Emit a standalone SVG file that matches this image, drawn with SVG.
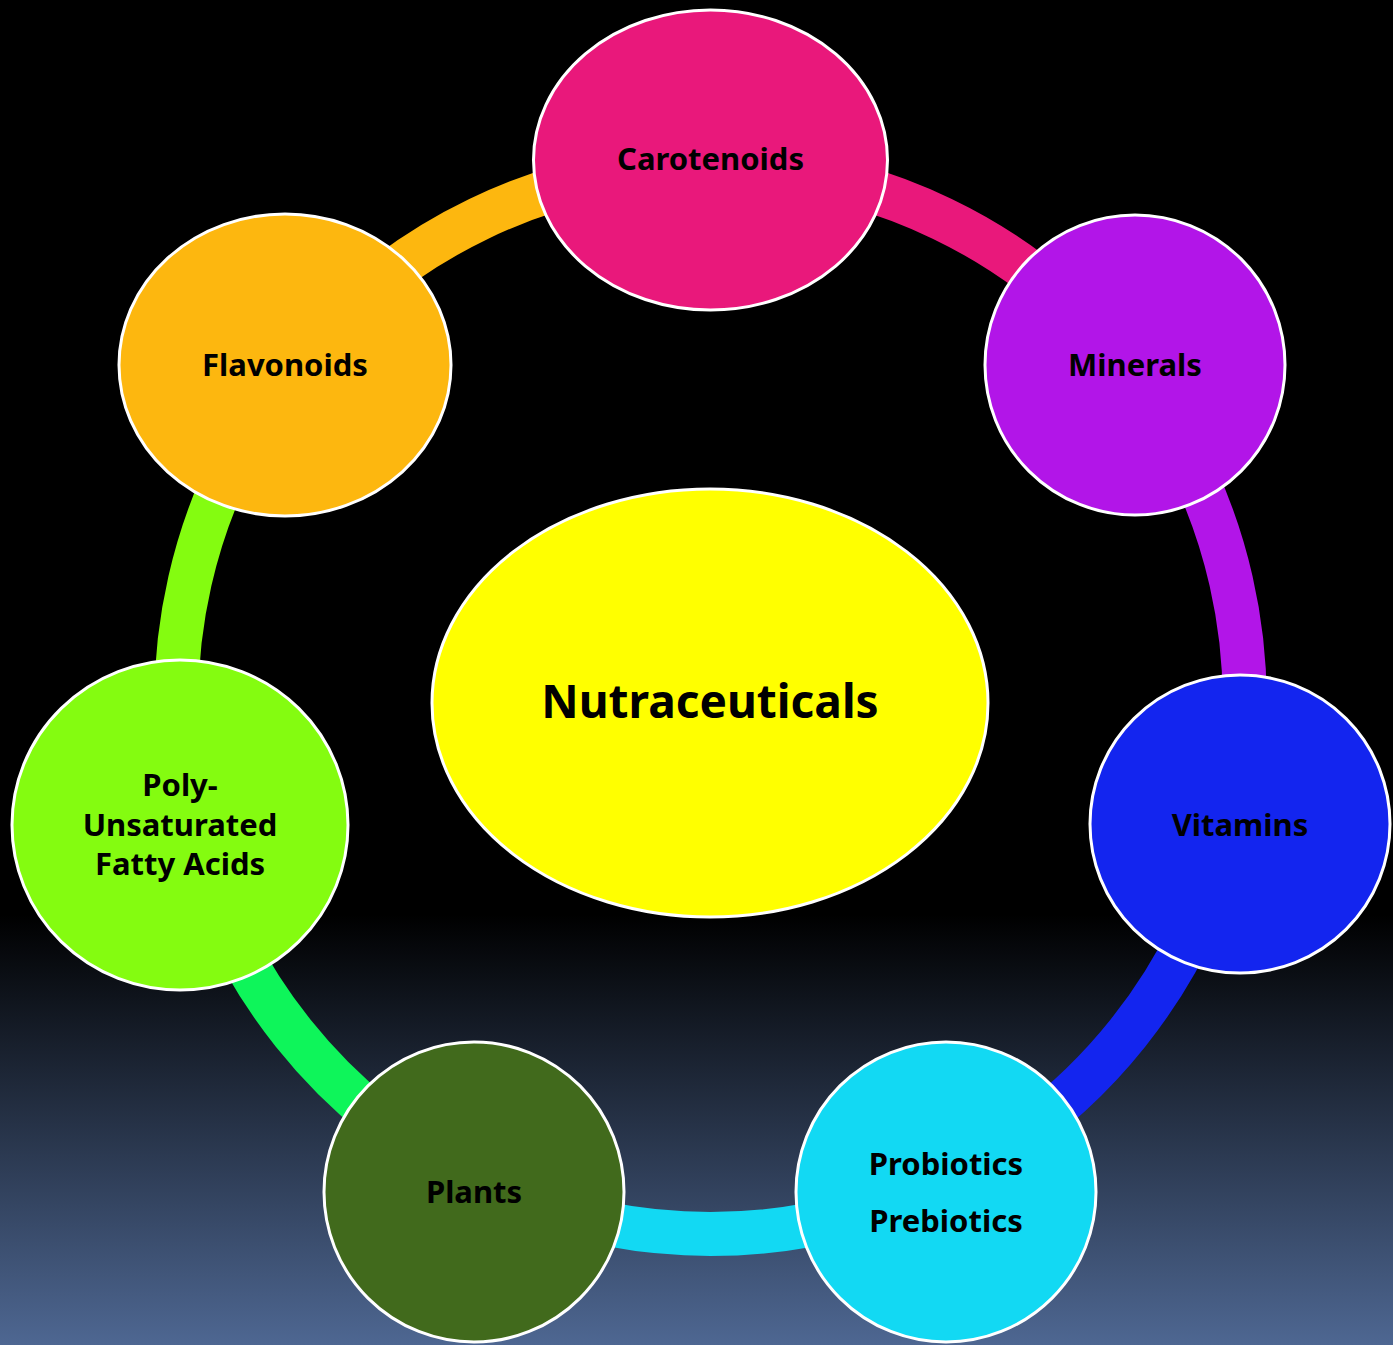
<svg xmlns="http://www.w3.org/2000/svg" width="1393" height="1345" viewBox="0 0 1393 1345">
  <defs>
    <linearGradient id="bg" x1="0" y1="0" x2="0" y2="1">
      <stop offset="0" stop-color="#000000"/>
      <stop offset="0.68" stop-color="#000000"/>
      <stop offset="1" stop-color="#4e6792"/>
    </linearGradient>
  </defs>
  <style>
    .arc { fill: none; stroke-width: 44; }
    .node { stroke: #ffffff; stroke-width: 3; }
    .lbl { font-family: "Noto Sans", "Open Sans", "DejaVu Sans", sans-serif; font-weight: bold; font-size: 31px; fill: #000000; text-anchor: middle; }
    .big { font-size: 46px; }
  </style>
  <rect x="0" y="0" width="1393" height="1345" fill="url(#bg)"/>
  <g id="connectors">
    <path class="arc" stroke="#e9187b" d="M 710.5 166 A 534 534 0 0 1 1128 367"/>
    <path class="arc" stroke="#b215e8" d="M 1128 367 A 534 534 0 0 1 1231.1 818.8"/>
    <path class="arc" stroke="#1325ef" d="M 1231.1 818.8 A 534 534 0 0 1 942.2 1181.1"/>
    <path class="arc" stroke="#12d9f3" d="M 942.2 1181.1 A 534 534 0 0 1 478.8 1181.1"/>
    <path class="arc" stroke="#0ef55a" d="M 478.8 1181.1 A 534 534 0 0 1 189.9 818.8"/>
    <path class="arc" stroke="#84fc10" d="M 189.9 818.8 A 534 534 0 0 1 293 367"/>
    <path class="arc" stroke="#fdb70f" d="M 293 367 A 534 534 0 0 1 710.5 166"/>
  </g>
  <g id="center">
    <ellipse class="node" cx="710" cy="703" rx="278" ry="214" fill="#ffff00"/>
    <text class="lbl big" x="710" y="718">Nutraceuticals</text>
  </g>
  <g id="carotenoids">
    <ellipse class="node" cx="710.5" cy="160" rx="177" ry="150" fill="#e9187b"/>
    <text class="lbl" x="710.5" y="170">Carotenoids</text>
  </g>
  <g id="minerals">
    <ellipse class="node" cx="1135" cy="365" rx="150" ry="150" fill="#b215e8"/>
    <text class="lbl" x="1135" y="376">Minerals</text>
  </g>
  <g id="vitamins">
    <ellipse class="node" cx="1240" cy="824" rx="150" ry="149" fill="#1325ef"/>
    <text class="lbl" x="1240" y="836">Vitamins</text>
  </g>
  <g id="probiotics">
    <ellipse class="node" cx="946" cy="1192" rx="150" ry="150" fill="#12d9f3"/>
    <text class="lbl" x="946" y="1175">Probiotics</text>
    <text class="lbl" x="946" y="1232">Prebiotics</text>
  </g>
  <g id="plants">
    <ellipse class="node" cx="474" cy="1192" rx="150" ry="150" fill="#416a1c"/>
    <text class="lbl" x="474" y="1203">Plants</text>
  </g>
  <g id="pufa">
    <ellipse class="node" cx="180" cy="825" rx="168" ry="165" fill="#84fc10"/>
    <text class="lbl" x="180" y="796">Poly-</text>
    <text class="lbl" x="180" y="836">Unsaturated</text>
    <text class="lbl" x="180" y="875">Fatty Acids</text>
  </g>
  <g id="flavonoids">
    <ellipse class="node" cx="285" cy="365" rx="166" ry="151" fill="#fdb70f"/>
    <text class="lbl" x="285" y="376">Flavonoids</text>
  </g>
</svg>
